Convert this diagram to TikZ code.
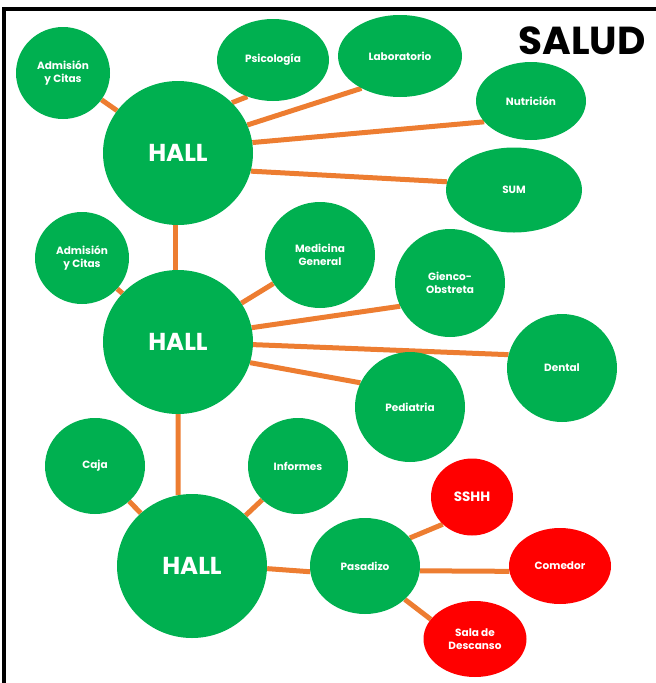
\documentclass[tikz,border=0pt]{standalone}
\usepackage{fontspec}
\setmainfont{Poppins}
\usetikzlibrary{shapes.geometric,backgrounds}
\definecolor{roomgreen}{HTML}{00B050}
\definecolor{roomred}{HTML}{FF0000}
\definecolor{linkorange}{HTML}{ED7D31}
\tikzset{
  area/.style={ellipse, draw=none, inner sep=0pt, text=white, align=center,
    font=\fontsize{10.5}{12.5}\selectfont\bfseries},
  room/.style={area, fill=roomgreen},
  redroom/.style={area, fill=roomred},
  hub/.style={area, fill=roomgreen, minimum width=150pt, minimum height=144pt,
    font=\fontsize{24.5}{28}\selectfont\bfseries},
  link/.style={draw=linkorange, line width=5pt},
  sz/.style 2 args={minimum width=#1pt, minimum height=#2pt},
}
\begin{document}
\begin{tikzpicture}[x=1pt,y=-1pt]
\useasboundingbox (0,0) rectangle (656,683);
% frame
\draw[line width=3.5pt, line join=miter] (656,9) -- (4,9) -- (4,683);
\node[font=\fontsize{39}{44}\selectfont\bfseries] (title) at (582,41) {SALUD};

% first hall
\node[hub] (h1) at (178,153) {HALL};
\node[room, sz={94}{92}] (adm1) at (63,73) {Admisión\\y Citas};
\node[room, sz={112}{82}] (psi) at (273,60) {Psicología};
\node[room, sz={124}{82}] (lab) at (400,56) {Laboratorio};
\node[room, sz={110}{78}] (nut) at (531,101) {Nutrición};
\node[room, sz={136}{85}] (sum) at (514,190) {SUM};

% second hall
\node[hub] (h2) at (178,342) {HALL};
\node[room, sz={94}{92}] (adm2) at (82,258) {Admisión\\y Citas};
\node[room, sz={110}{106}] (med) at (320,255) {Medicina\\General};
\node[room, sz={110}{108}] (gin) at (450,283) {Gienco-\\Obstreta};
\node[room, sz={110}{108}] (den) at (562,368) {Dental};
\node[room, sz={110}{110}] (ped) at (410,407) {Pediatria};

% third hall
\node[hub] (h3) at (192,566) {HALL};
\node[room, sz={100}{96}] (caja) at (95,466) {Caja};
\node[room, sz={100}{96}] (inf) at (298,466) {Informes};
\node[room, sz={110}{96}] (pas) at (365,566) {Pasadizo};
\node[redroom, sz={82}{77}, font=\fontsize{13.5}{15}\selectfont\bfseries] (ssh) at (472,497) {SSHH};
\node[redroom, sz={102}{76}] (com) at (560,566) {Comedor};
\node[redroom, sz={103}{76}] (sal) at (475,639) {Sala de\\Descanso};

\begin{scope}[on background layer]
  \draw[link] (h1) -- (adm1);
  \draw[link] (h1.43) -- (psi.235);
  \draw[link] (h1.22) -- (lab.220);
  \draw[link] (h1.8) -- (nut.204);
  \draw[link] (h1.-14) -- (sum.173);
  \draw[link] (h1.-92) -- (h2.92);
  \draw[link] (h2) -- (adm2);
  \draw[link] (h2) -- (med);
  \draw[link] (h2.11) -- (gin.205);
  \draw[link] (h2.-2) -- (den.166);
  \draw[link] (h2.-16) -- (ped.154);
  \draw[link] (h2.-90) -- (h3.101);
  \draw[link] (h3) -- (caja);
  \draw[link] (h3) -- (inf);
  \draw[link] (h3.-2) -- (pas.186);
  \draw[link] (pas.32) -- (ssh.223);
  \draw[link] (pas.-5) -- (com.186);
  \draw[link] (pas.-40) -- (sal.156);
\end{scope}
\end{tikzpicture}
\end{document}
